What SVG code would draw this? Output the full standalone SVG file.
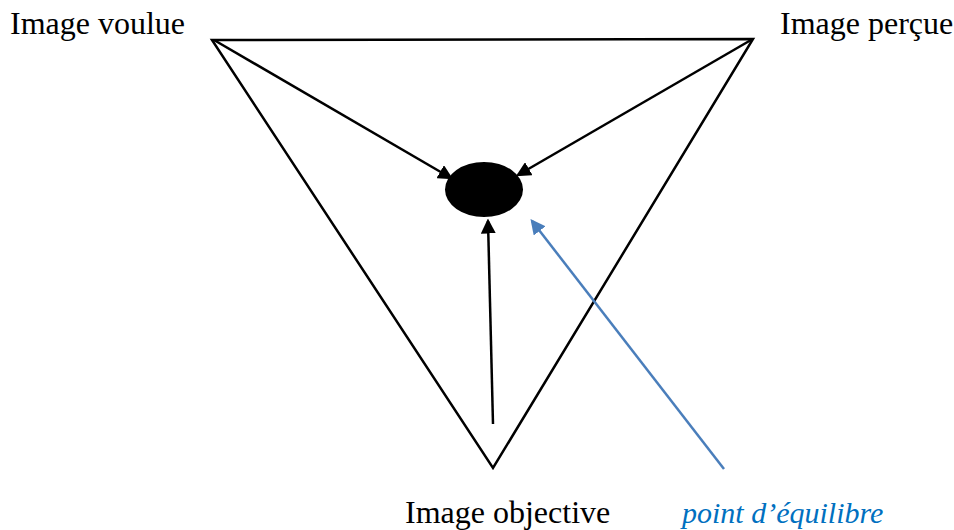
<svg xmlns="http://www.w3.org/2000/svg" width="954" height="530" viewBox="0 0 954 530">
<style>
.lbl{font-family:"Liberation Serif","Times New Roman",serif;font-size:32px;fill:#000}
.blue{fill:#0070c0;font-style:italic;font-size:30px}
.edge{stroke:#000;stroke-width:2.5;fill:none}
.conn{stroke:#000;stroke-width:2.5;fill:none;marker-end:url(#ah)}
.bconn{stroke:#4a7ebb;stroke-width:2.5;fill:none;marker-end:url(#bh)}
</style>
<defs>
<marker id="ah" markerWidth="6" markerHeight="6" refX="5" refY="3" orient="auto" markerUnits="strokeWidth"><path d="M0,0 L6,3 L0,6 z" fill="#000"/></marker>
<marker id="bh" markerWidth="6" markerHeight="6" refX="5" refY="3" orient="auto" markerUnits="strokeWidth"><path d="M0,0 L6,3 L0,6 z" fill="#4a7ebb"/></marker>
</defs>
<g id="triangle">
<path class="edge" d="M212,40 L753,39 L493,468 Z" stroke-linejoin="miter"/>
</g>
<g id="center">
<ellipse cx="484" cy="189.5" rx="39" ry="27.5" fill="#000"/>
</g>
<g id="connectors">
<line class="conn" x1="214" y1="40" x2="451" y2="178"/>
<line class="conn" x1="751" y1="40" x2="518" y2="175"/>
<line class="conn" x1="493" y1="424" x2="488" y2="221"/>
<line class="bconn" x1="724" y1="469" x2="532" y2="221"/>
</g>
<g id="image-voulue"><text class="lbl" x="10" y="34">Image voulue</text></g>
<g id="image-percue"><text class="lbl" x="780" y="34">Image perçue</text></g>
<g id="image-objective"><text class="lbl" x="405" y="523">Image objective</text></g>
<g id="point-equilibre"><text class="lbl blue" x="682" y="523">point d’équilibre</text></g>
</svg>
